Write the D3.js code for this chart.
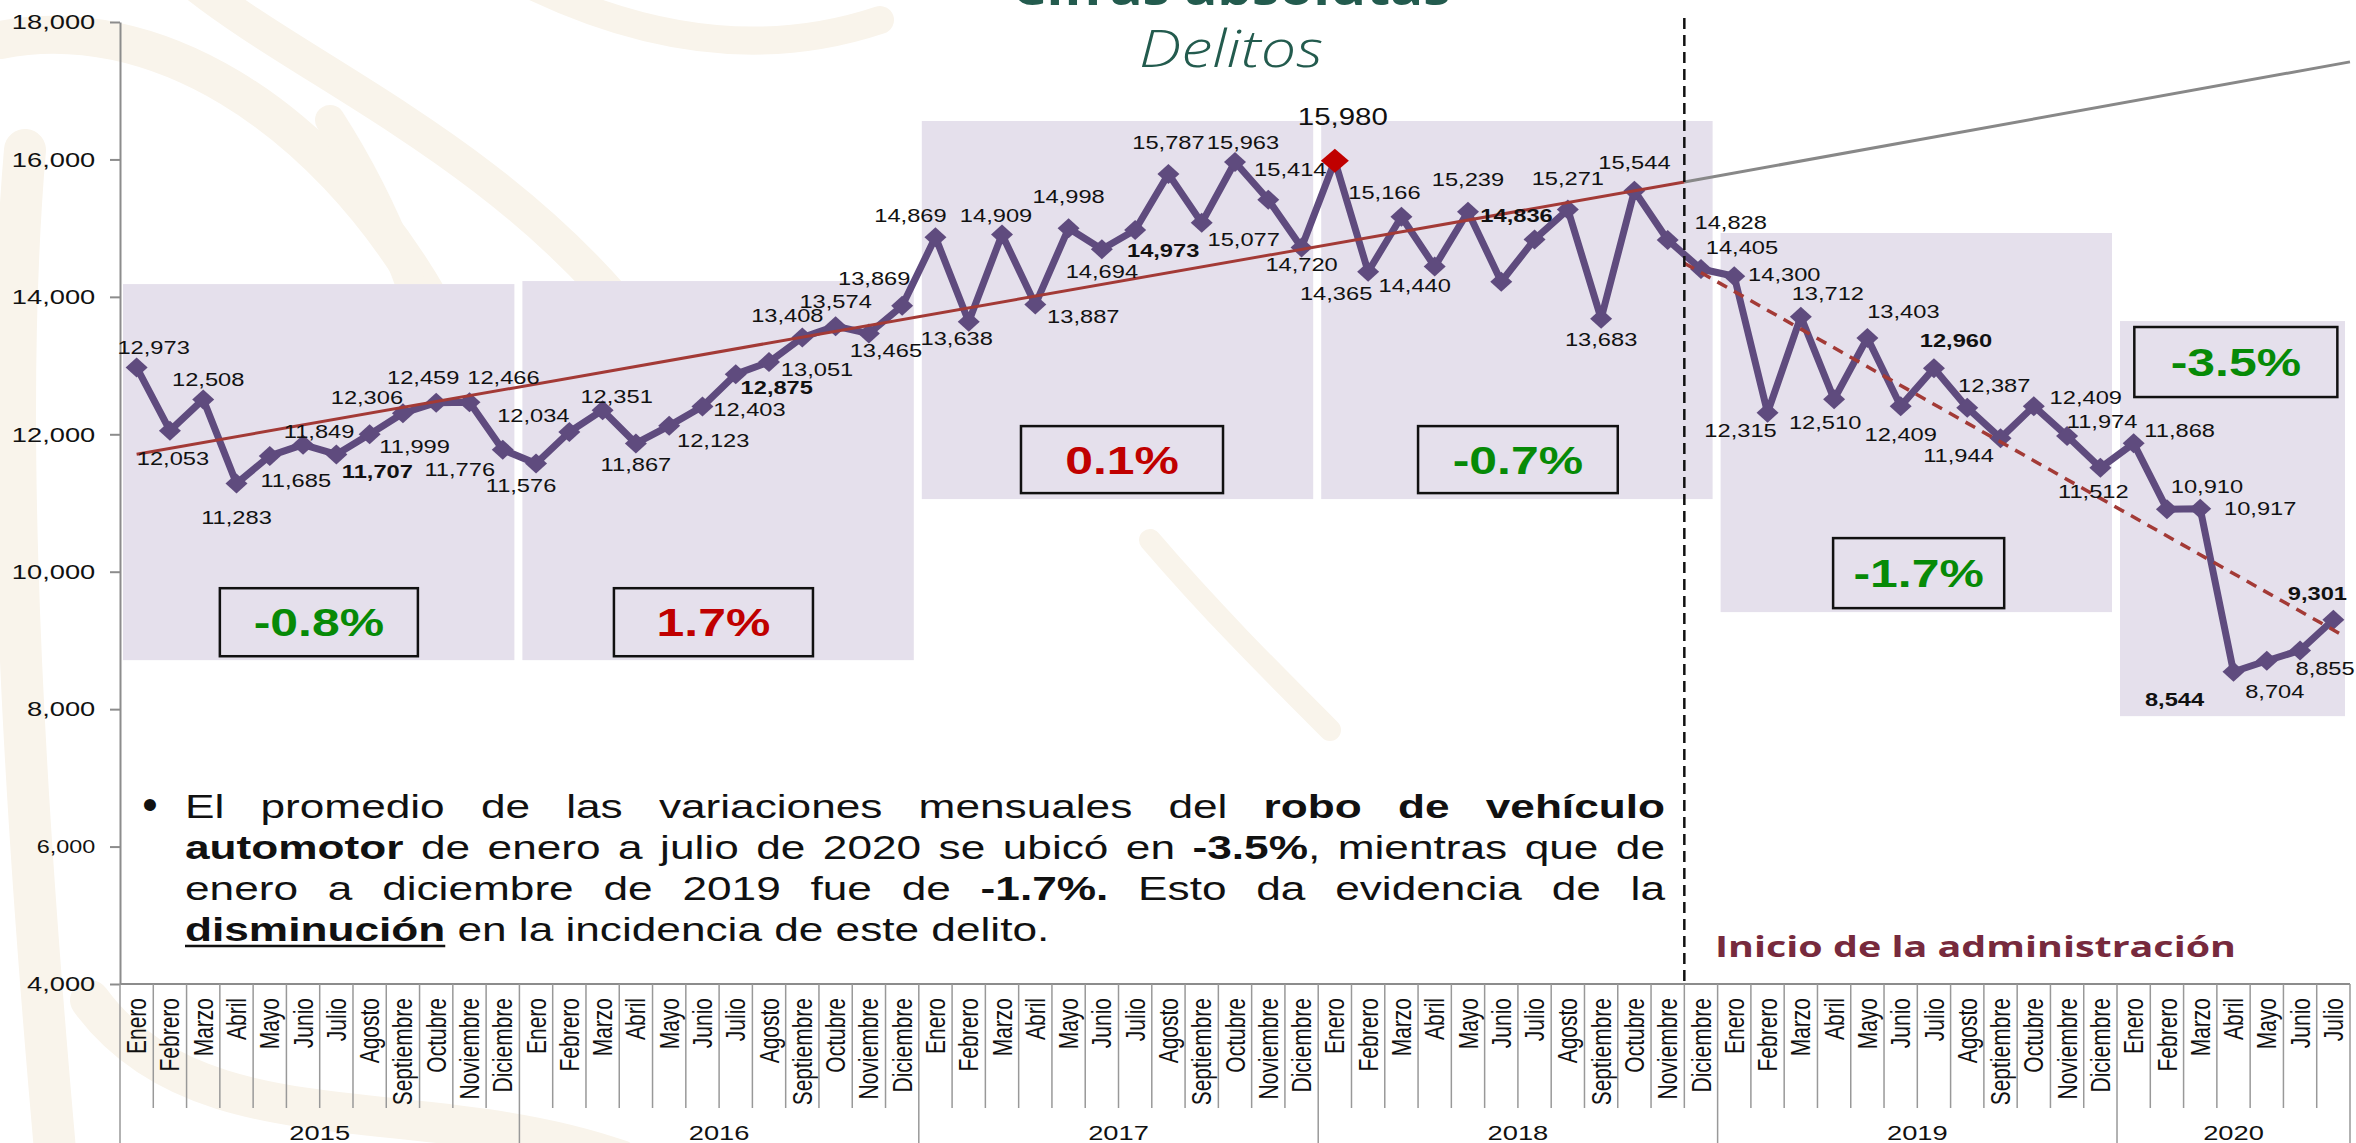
<!DOCTYPE html>
<html>
<head>
<meta charset="UTF-8">
<title>Robo de vehículo automotor</title>
<script src="https://d3js.org/d3.v7.min.js"></script>
<style>
  body { margin: 0; background: #fff; }
  svg { display: block; }
</style>
</head>
<body>
<script>
// datos: robo de vehiculo automotor, cifras mensuales
var anios = ['2015', '2016', '2017', '2018', '2019', '2020'];
var meses = ['Enero', 'Febrero', 'Marzo', 'Abril', 'Mayo', 'Junio', 'Julio', 'Agosto', 'Septiembre', 'Octubre', 'Noviembre', 'Diciembre'];
var v2015 = [12973, 12053, 12508, 11283, 11685, 11849, 11707, 11999, 12306, 12459, 12466, 11776];
var v2016 = [11576, 12034, 12351, 11867, 12123, 12403, 12875, 13051, 13408, 13574, 13465, 13869];
var v2017 = [14869, 13638, 14909, 13887, 14998, 14694, 14973, 15787, 15077, 15963, 15414, 14720];
var v2018 = [15980, 14365, 15166, 14440, 15239, 14220, 14836, 15271, 13683, 15544, 14828, 14405];
var v2019 = [14300, 12315, 13712, 12510, 13403, 12409, 12960, 12387, 11944, 12409, 11974, 11512];
var v2020 = [11868, 10910, 10917, 8544, 8704, 8855, 9301];
var yTicks = [4000, 6000, 8000, 10000, 12000, 14000, 16000, 18000];
var etiquetasNegritas = [6, 18, 30, 42, 54, 63, 66];
var sinEtiqueta = [41];
var maximo = 36;
// tendencias (posicion de mes, valor)
var tendenciaAntes = [[0, 11710], [46.5, 15671]];
var tendenciaProyeccion = [[46.5, 15671], [66.5, 17420]];
var tendenciaDespues = [[46.5, 14490], [66.3, 9070]];
var variaciones = ['-0.8%', '1.7%', '0.1%', '-0.7%', '-1.7%', '-3.5%'];
var inicioAdmin = 46.5;

// acomodo de anotaciones (no son datos)
var sombras = [[14186, 8713], [14230, 8713], [16559, 11057], [16559, 11057], [14929, 9412], [13648, 7898]];
var cajas = [[2.5, 8.45, 9760, 8770], [14.34, 20.32, 9760, 8770], [26.57, 32.64, 12119, 11144],
             [38.5, 44.5, 12119, 11144], [50.97, 56.11, 10489, 9470], [60.02, 66.12, 13561, 12542]];
var desfases = [[17,-20],[3,28],[5,-20],[0,34],[26,24],[16,-13],[41,17],[45,12],[-36,-16],[-13,-25],[34,-25],[-43,20],
  [-15,22],[-36,-17],[14,-14],[0,21],[44,15],[47,3],[41,13],[48,7],[-15,-22],[0,-25],[17,17],[-28,-28],
  [-25,-22],[-12,17],[-6,-19],[48,12],[0,-32],[0,22],[28,20],[0,-32],[42,16],[8,-20],[22,-30],[0,17],
  [8,-44],[-32,22],[-17,-24],[-20,19],[0,-32],[0,0],[-18,-24],[0,-31],[0,21],[0,-28],[63,-18],[41,-22],
  [50,-2],[-27,18],[27,-23],[-9,23],[36,-27],[0,28],[22,-28],[27,-22],[-42,17],[52,-9],[35,-15],[-7,24],
  [46,-13],[40,-23],[60,0],[-59,28],[8,31],[25,18],[-16,-26]];

var W = 2356, H = 1143;
var fArial = 'Liberation Sans, Arial, sans-serif';
var fTitulo = 'Open Sans, sans-serif';
var morado = '#5f4b7e';
var verde = '#078a07';
var rojo = '#c00000';
var gris = '#8c8c8c';

var valores = v2015.concat(v2016, v2017, v2018, v2019, v2020);
var n = valores.length;
var puntos = valores.map(function(v, i) {
  return { i: i, v: v, anio: anios[Math.floor(i / 12)], mes: meses[i % 12] };
});

var svg = d3.select('body').append('svg').attr('width', W).attr('height', H);

var x = d3.scaleBand().domain(d3.range(n)).range([120, 2350]).padding(0);
var bw = x.bandwidth();
var xp = d3.scaleLinear().domain([-0.5, n - 0.5]).range([120, 2350]);
var y = d3.scaleLinear().domain([4000, 18000]).range([984, 22]);

// marca de agua
var agua = svg.append('g').attr('fill', 'none').attr('stroke', '#f9f4eb').attr('stroke-linecap', 'round');
var trazos = [
  ['M25,150 C5,380 15,700 55,1150', 42],
  ['M0,40 C150,10 320,110 430,300', 38],
  ['M190,-20 C300,70 500,150 640,330', 34],
  ['M330,120 C420,260 460,420 470,600', 30],
  ['M90,1000 C200,1150 420,1090 620,1160', 40],
  ['M1150,540 C1210,610 1270,670 1330,730', 22],
  ['M520,-20 C640,40 760,60 880,20', 28]
];
trazos.forEach(function(t) {
  agua.append('path').attr('d', t[0]).attr('stroke-width', t[1]);
});

// sombras por anio
svg.append('g').selectAll('rect')
  .data(sombras)
  .enter()
  .append('rect')
  .attr('x', function(d, k) { return x(k * 12) + 3; })
  .attr('width', function(d, k) { return x(Math.min(k * 12 + 11, n - 1)) + bw - 5 - (x(k * 12) + 3); })
  .attr('y', function(d) { return y(d[0]); })
  .attr('height', function(d) { return y(d[1]) - y(d[0]); })
  .attr('fill', '#e5e0ec');

// cajas de variacion
var gc = svg.append('g');
cajas.forEach(function(c, k) {
  gc.append('rect')
    .attr('x', xp(c[0])).attr('y', y(c[2]))
    .attr('width', xp(c[1]) - xp(c[0])).attr('height', y(c[3]) - y(c[2]))
    .attr('fill', 'none').attr('stroke', '#111').attr('stroke-width', 2.5);
  var cx = (xp(c[0]) + xp(c[1])) / 2, cy = (y(c[2]) + y(c[3])) / 2;
  gc.append('text')
    .attr('transform', 'translate(' + cx + ',' + cy + ') scale(1.28,1)')
    .attr('text-anchor', 'middle').attr('dy', '0.36em')
    .attr('font-family', fArial).attr('font-weight', 'bold').attr('font-size', 39)
    .attr('fill', variaciones[k].charAt(0) === '-' ? verde : rojo)
    .text(variaciones[k]);
});

// eje y
var yAxis = d3.axisLeft(y).tickValues(yTicks).tickFormat(d3.format(',')).tickSize(10).tickSizeOuter(0).tickPadding(9);
var gy = svg.append('g').attr('transform', 'translate(120,0)').call(yAxis);
gy.select('.domain').attr('stroke', gris).attr('stroke-width', 2);
gy.selectAll('.tick line').attr('stroke', gris).attr('stroke-width', 2);
gy.selectAll('.tick text')
  .attr('font-family', fArial).attr('font-size', function(d) { return d === 6000 ? 18 : 21; })
  .attr('fill', '#111').attr('transform', 'scale(1.3,1)');

// eje x con dos niveles
var gx = svg.append('g');
gx.append('line').attr('x1', 120).attr('x2', 2350).attr('y1', y(4000)).attr('y2', y(4000))
  .attr('stroke', gris).attr('stroke-width', 2);
gx.selectAll('line.sep')
  .data(d3.range(n + 1))
  .enter()
  .append('line')
  .attr('class', 'sep')
  .attr('x1', function(i) { return i < n ? x(i) : x(n - 1) + bw; })
  .attr('x2', function(i) { return i < n ? x(i) : x(n - 1) + bw; })
  .attr('y1', y(4000))
  .attr('y2', function(i) { return (i % 12 === 0 || i === n) ? H : 1108; })
  .attr('stroke', '#999').attr('stroke-width', 1.5);
gx.selectAll('text.mes')
  .data(puntos)
  .enter()
  .append('text')
  .attr('class', 'mes')
  .attr('transform', function(d) { return 'translate(' + (x(d.i) + bw / 2) + ',998) rotate(-90) scale(1,1.3)'; })
  .attr('text-anchor', 'end').attr('dy', '0.35em')
  .attr('font-family', fArial).attr('font-size', 21).attr('fill', '#111')
  .text(function(d) { return d.mes; });
gx.selectAll('text.anio')
  .data(anios)
  .enter()
  .append('text')
  .attr('class', 'anio')
  .attr('transform', function(a, k) {
    var ult = Math.min(k * 12 + 11, n - 1);
    return 'translate(' + ((x(k * 12) + x(ult) + bw) / 2) + ',1140) scale(1.3,1)';
  })
  .attr('text-anchor', 'middle')
  .attr('font-family', fArial).attr('font-size', 21).attr('fill', '#111')
  .text(function(a) { return a; });

// serie principal
var linea = d3.line().x(function(d) { return xp(d.i); }).y(function(d) { return y(d.v); });
svg.append('path').datum(puntos)
  .attr('d', linea)
  .attr('fill', 'none').attr('stroke', morado).attr('stroke-width', 7).attr('stroke-linejoin', 'round');
svg.append('g').selectAll('path')
  .data(puntos)
  .enter()
  .append('path')
  .attr('transform', function(d) { return 'translate(' + xp(d.i) + ',' + y(d.v) + ')'; })
  .attr('d', function(d) { return d.i === maximo ? 'M0,-12L14,0L0,12L-14,0Z' : 'M0,-10L11,0L0,10L-11,0Z'; })
  .attr('fill', function(d) { return d.i === maximo ? rojo : morado; });

// lineas de tendencia
var lt = d3.line().x(function(d) { return xp(d[0]); }).y(function(d) { return y(d[1]); });
svg.append('path').attr('d', lt(tendenciaProyeccion)).attr('stroke', '#888').attr('stroke-width', 3).attr('fill', 'none');
svg.append('path').attr('d', lt(tendenciaAntes)).attr('stroke', '#a33a36').attr('stroke-width', 3).attr('fill', 'none');
svg.append('path').attr('d', lt(tendenciaDespues)).attr('stroke', '#a33a36').attr('stroke-width', 3.5)
  .attr('stroke-dasharray', '11,8').attr('fill', 'none');

// etiquetas de datos
svg.append('g').selectAll('text')
  .data(puntos.filter(function(d) { return sinEtiqueta.indexOf(d.i) < 0; }))
  .enter()
  .append('text')
  .attr('transform', function(d) {
    var o = desfases[d.i];
    return 'translate(' + (xp(d.i) + o[0]) + ',' + (y(d.v) + o[1]) + ') scale(1.28,1)';
  })
  .attr('text-anchor', 'middle').attr('dy', '0.36em')
  .attr('font-family', fArial)
  .attr('font-size', function(d) { return d.i === maximo ? 23 : 18.5; })
  .attr('font-weight', function(d) { return etiquetasNegritas.indexOf(d.i) >= 0 ? 'bold' : 'normal'; })
  .attr('fill', '#111')
  .text(function(d) { return d3.format(',')(d.v); });

// inicio de la administracion
svg.append('line')
  .attr('x1', xp(inicioAdmin)).attr('x2', xp(inicioAdmin))
  .attr('y1', 18).attr('y2', y(4000))
  .attr('stroke', '#111').attr('stroke-width', 2.5).attr('stroke-dasharray', '11,6');
svg.append('text')
  .attr('x', 1715).attr('y', 957)
  .attr('font-family', fTitulo).attr('font-weight', 'bold').attr('font-size', 29)
  .attr('textLength', 521).attr('lengthAdjust', 'spacingAndGlyphs')
  .attr('fill', '#772a3d')
  .text('Inicio de la administración');

// titulo
svg.append('text')
  .attr('x', 1231).attr('y', 5).attr('text-anchor', 'middle')
  .attr('font-family', fTitulo).attr('font-weight', 'bold').attr('font-size', 50)
  .attr('textLength', 439).attr('lengthAdjust', 'spacingAndGlyphs')
  .attr('fill', '#235b4e')
  .text('Cifras absolutas');
svg.append('text')
  .attr('x', 1231).attr('y', 67).attr('text-anchor', 'middle')
  .attr('font-family', fTitulo).attr('font-style', 'italic').attr('font-weight', 300).attr('font-size', 52)
  .attr('textLength', 184).attr('lengthAdjust', 'spacingAndGlyphs')
  .attr('fill', '#235b4e')
  .text('Delitos');

// texto justificado
var lineas = [
  [['El promedio de las variaciones mensuales del ', 'n'], ['robo de vehículo', 'b']],
  [['automotor', 'b'], [' de enero a julio de 2020 se ubicó en ', 'n'], ['-3.5%', 'b'], [', mientras que de', 'n']],
  [['enero a diciembre de 2019 fue de ', 'n'], ['-1.7%.', 'b'], [' Esto da evidencia de la', 'n']],
  [['disminución', 'u'], [' en la incidencia de este delito.', 'n']]
];
var baseLineas = [818, 859, 900, 941];

function palabras(segs) {
  var out = [];
  var nueva = true;
  segs.forEach(function(s) {
    s[0].split(' ').forEach(function(p, k) {
      if (k > 0) nueva = true;
      if (p === '') return;
      if (nueva || out.length === 0) out.push([[p, s[1]]]);
      else out[out.length - 1].push([p, s[1]]);
      nueva = false;
    });
  });
  return out;
}

var escala = 1.3;
var anchoTexto = (1665 - 185) / escala;
var gp = svg.append('g').attr('transform', 'translate(185,0) scale(' + escala + ',1)');
svg.append('text').attr('x', 150).attr('y', baseLineas[0] + 2).attr('text-anchor', 'middle')
  .attr('font-family', fArial).attr('font-size', 44).attr('fill', '#111').text('•');

lineas.forEach(function(segs, li) {
  var ws = palabras(segs);
  var nodos = ws.map(function(w) {
    var t = gp.append('text').attr('y', baseLineas[li])
      .attr('font-family', fArial).attr('font-size', 34).attr('fill', '#111');
    w.forEach(function(pz) {
      t.append('tspan').attr('font-weight', pz[1] === 'n' ? 'normal' : 'bold').text(pz[0]);
    });
    return t;
  });
  var anchos = nodos.map(function(t) { return t.node().getComputedTextLength(); });
  var total = d3.sum(anchos);
  var ultima = li === lineas.length - 1;
  var hueco = ultima ? 9.4 : (anchoTexto - total) / (ws.length - 1);
  var px = 0;
  nodos.forEach(function(t, k) {
    t.attr('x', px);
    if (ws[k][0][1] === 'u') {
      gp.append('line').attr('x1', px).attr('x2', px + anchos[k])
        .attr('y1', baseLineas[li] + 5).attr('y2', baseLineas[li] + 5)
        .attr('stroke', '#111').attr('stroke-width', 2.5);
    }
    px += anchos[k] + hueco;
  });
});
</script>
</body>
</html>
